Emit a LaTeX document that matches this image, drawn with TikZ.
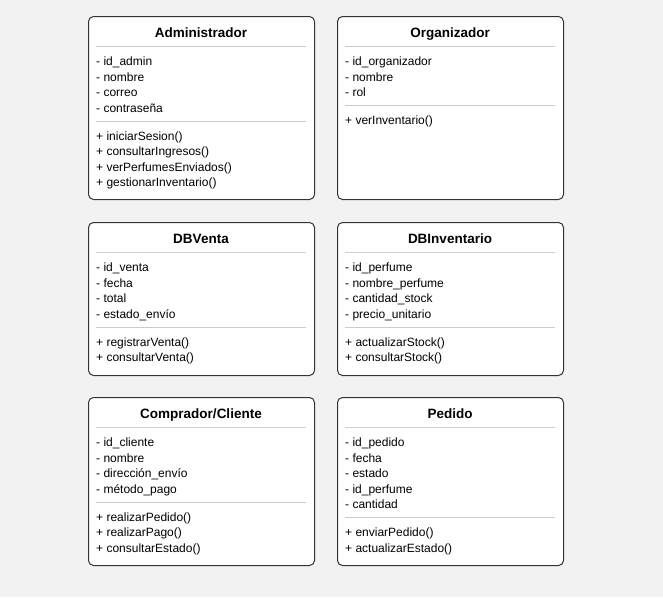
\documentclass[tikz,border=0pt]{standalone}
\usepackage{fontspec}
\setmainfont{Liberation Sans}
\definecolor{bgcol}{HTML}{F2F2F2}
\definecolor{boxline}{HTML}{333333}
\definecolor{sepline}{HTML}{CCCCCC}

\begin{document}
\begin{tikzpicture}[x=1pt,y=-1pt,
  classbox/.style={draw=boxline, fill=white, line width=1pt, rounded corners=5pt, anchor=north west, minimum width=226pt, inner sep=0pt},
  classtitle/.style={anchor=base, inner sep=0pt, font=\fontsize{13.5}{16}\selectfont\bfseries},
  member/.style={anchor=base west, inner sep=0pt, font=\fontsize{12}{14}\selectfont},
  sepl/.style={draw=sepline, line width=0.9pt}]

\fill[bgcol] (0,0) rectangle (663,597);
\useasboundingbox (0,0) rectangle (663,597);

% Administrador
\node[classbox, minimum height=183pt] (admin) at (88,16) {};
\node[classtitle] (admin-t) at (201,37) {Administrador};
\draw[sepl] (96,46) -- (306,46);
\node[member] (admin-a1) at (96,65.5) {- id\_admin};
\node[member] (admin-a2) at (96,81) {- nombre};
\node[member] (admin-a3) at (96,96.5) {- correo};
\node[member] (admin-a4) at (96,112) {- contraseña};
\draw[sepl] (96,121) -- (306,121);
\node[member] (admin-m1) at (96,140) {+ iniciarSesion()};
\node[member] (admin-m2) at (96,155.5) {+ consultarIngresos()};
\node[member] (admin-m3) at (96,171) {+ verPerfumesEnviados()};
\node[member] (admin-m4) at (96,186.5) {+ gestionarInventario()};

% Organizador
\node[classbox, minimum height=183pt] (org) at (337,16) {};
\node[classtitle] (org-t) at (450,37) {Organizador};
\draw[sepl] (345,46) -- (555,46);
\node[member] (org-a1) at (345,65.5) {- id\_organizador};
\node[member] (org-a2) at (345,81) {- nombre};
\node[member] (org-a3) at (345,96.5) {- rol};
\draw[sepl] (345,105.5) -- (555,105.5);
\node[member] (org-m1) at (345,124.5) {+ verInventario()};

% DBVenta
\node[classbox, minimum height=153pt] (venta) at (88,222) {};
\node[classtitle] (venta-t) at (201,243) {DBVenta};
\draw[sepl] (96,252) -- (306,252);
\node[member] (venta-a1) at (96,271.5) {- id\_venta};
\node[member] (venta-a2) at (96,287) {- fecha};
\node[member] (venta-a3) at (96,302.5) {- total};
\node[member] (venta-a4) at (96,318) {- estado\_envío};
\draw[sepl] (96,327) -- (306,327);
\node[member] (venta-m1) at (96,346) {+ registrarVenta()};
\node[member] (venta-m2) at (96,361.5) {+ consultarVenta()};

% DBInventario
\node[classbox, minimum height=153pt] (inv) at (337,222) {};
\node[classtitle] (inv-t) at (450,243) {DBInventario};
\draw[sepl] (345,252) -- (555,252);
\node[member] (inv-a1) at (345,271.5) {- id\_perfume};
\node[member] (inv-a2) at (345,287) {- nombre\_perfume};
\node[member] (inv-a3) at (345,302.5) {- cantidad\_stock};
\node[member] (inv-a4) at (345,318) {- precio\_unitario};
\draw[sepl] (345,327) -- (555,327);
\node[member] (inv-m1) at (345,346) {+ actualizarStock()};
\node[member] (inv-m2) at (345,361.5) {+ consultarStock()};

% Comprador/Cliente
\node[classbox, minimum height=168pt] (cliente) at (88,397) {};
\node[classtitle] (cliente-t) at (201,418) {Comprador/Cliente};
\draw[sepl] (96,427) -- (306,427);
\node[member] (cliente-a1) at (96,446.5) {- id\_cliente};
\node[member] (cliente-a2) at (96,462) {- nombre};
\node[member] (cliente-a3) at (96,477.5) {- dirección\_envío};
\node[member] (cliente-a4) at (96,493) {- método\_pago};
\draw[sepl] (96,502) -- (306,502);
\node[member] (cliente-m1) at (96,521) {+ realizarPedido()};
\node[member] (cliente-m2) at (96,536.5) {+ realizarPago()};
\node[member] (cliente-m3) at (96,552) {+ consultarEstado()};

% Pedido
\node[classbox, minimum height=168pt] (pedido) at (337,397) {};
\node[classtitle] (pedido-t) at (450,418) {Pedido};
\draw[sepl] (345,427) -- (555,427);
\node[member] (pedido-a1) at (345,446.5) {- id\_pedido};
\node[member] (pedido-a2) at (345,462) {- fecha};
\node[member] (pedido-a3) at (345,477.5) {- estado};
\node[member] (pedido-a4) at (345,493) {- id\_perfume};
\node[member] (pedido-a5) at (345,508.5) {- cantidad};
\draw[sepl] (345,517.5) -- (555,517.5);
\node[member] (pedido-m1) at (345,536.5) {+ enviarPedido()};
\node[member] (pedido-m2) at (345,552) {+ actualizarEstado()};

\end{tikzpicture}
\end{document}
